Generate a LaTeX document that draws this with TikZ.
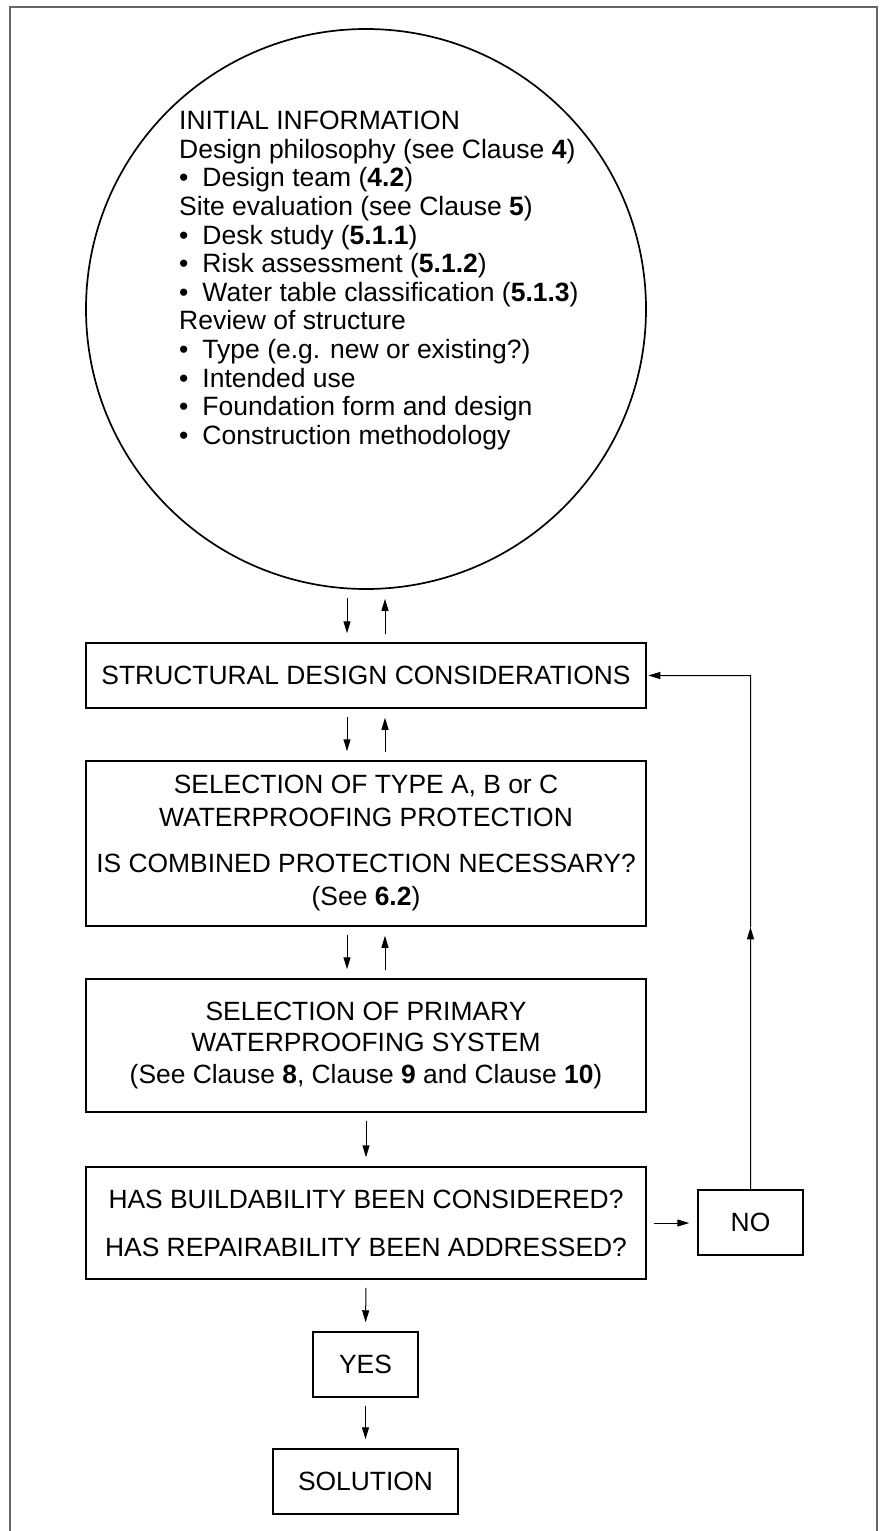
\documentclass[tikz,border=0pt]{standalone}
\usepackage{fontspec}
\setmainfont{Liberation Sans}
\usetikzlibrary{arrows.meta,calc}
\newcommand{\boxfont}{\fontsize{26.4}{33}\selectfont}
\newcommand{\infofont}{\fontsize{26.5}{28.6}\selectfont}
\newcommand{\bul}{•\hspace{14pt}}
\tikzset{
  box/.style={draw, line width=1.5pt, inner sep=0pt, align=center, font=\boxfont, minimum width=560pt},
  smallbox/.style={draw, line width=1.5pt, inner sep=0pt, align=center, font=\boxfont, minimum height=65pt},
  conn/.style={line width=1pt},
  tip/.style={-{Triangle[length=12pt,width=7pt]}},
  arr/.style={conn, tip, shorten <=8pt, shorten >=9pt},
  framecol/.style={draw=black!60, line width=1.2pt}
}
\begin{document}
\begin{tikzpicture}[x=1pt,y=-1pt]
\useasboundingbox (0,0) rectangle (879,1531);
% outer frame (open at the bottom)
\draw[framecol] (10,1540) -- (10,7) -- (877,7) -- (877,1540);

% initial information circle
\node[draw, circle, line width=1.7pt, minimum size=560pt, inner sep=0pt] (info) at (366,309) {};
\node[anchor=north west, align=left, inner sep=0pt, font=\infofont] (infotext) at (179,111) {%
INITIAL INFORMATION\\
Design philosophy (see Clause \textbf{4})\\
\bul Design team (\textbf{4.2})\\
Site evaluation (see Clause \textbf{5})\\
\bul Desk study (\textbf{5.1.1})\\
\bul Risk assessment (\textbf{5.1.2})\\
\bul Water table classification (\textbf{5.1.3})\\
Review of structure\\
\bul Type (e.g. new or existing?)\\
\bul Intended use\\
\bul Foundation form and design\\
\bul Construction methodology};

% boxes
\node[box, minimum height=65pt] (b1) at (366,675.5) {STRUCTURAL DESIGN CONSIDERATIONS};
\node[box, minimum height=165pt] (b2) at (366,843.5) {SELECTION OF TYPE A, B or C\\ WATERPROOFING PROTECTION\\[13pt] IS COMBINED PROTECTION NECESSARY?\\ (See \textbf{6.2})};
\node[box, minimum height=133pt] (b3) at (366,1045.5) {SELECTION OF PRIMARY\\[-1.5pt] WATERPROOFING SYSTEM\\[-1.5pt] (See Clause \textbf{8}, Clause \textbf{9} and Clause \textbf{10})};
\node[box, minimum height=112pt] (b4) at (366,1223) {HAS BUILDABILITY BEEN CONSIDERED?\\[15pt] HAS REPAIRABILITY BEEN ADDRESSED?};
\node[smallbox, minimum width=105pt] (no) at (750.5,1222.5) {NO};
\node[smallbox, minimum width=105pt] (yes) at (365.5,1364.5) {YES};
\node[smallbox, minimum width=185pt] (sol) at (365.5,1481.5) {SOLUTION};

% two-way arrows
\draw[arr] ([xshift=-19pt]info.south) -- ([xshift=-19pt]b1.north);
\draw[arr] ([xshift=19pt]b1.north) -- ([xshift=19pt]info.south);
\draw[arr] ([xshift=-19pt]b1.south) -- ([xshift=-19pt]b2.north);
\draw[arr] ([xshift=19pt]b2.north) -- ([xshift=19pt]b1.south);
\draw[arr] ([xshift=-19pt]b2.south) -- ([xshift=-19pt]b3.north);
\draw[arr] ([xshift=19pt]b3.north) -- ([xshift=19pt]b2.south);
% one-way arrows
\draw[arr] (b3.south) -- (b4.north);
\draw[arr] (b4.south) -- (yes.north);
\draw[arr] (yes.south) -- (sol.north);
\draw[arr, shorten <=7pt, shorten >=8pt] (b4.east) -- (b4.east -| no.west);

% feedback loop from NO
\coordinate (turn) at (no.north |- b1.east);
\coordinate (midtip) at ($(no.north)!0.51!(turn)$);
\draw[conn, tip] (no.north) -- (midtip);
\draw[conn, tip, shorten >=1.5pt] (midtip) -- (turn) -- (b1.east);
\end{tikzpicture}
\end{document}
